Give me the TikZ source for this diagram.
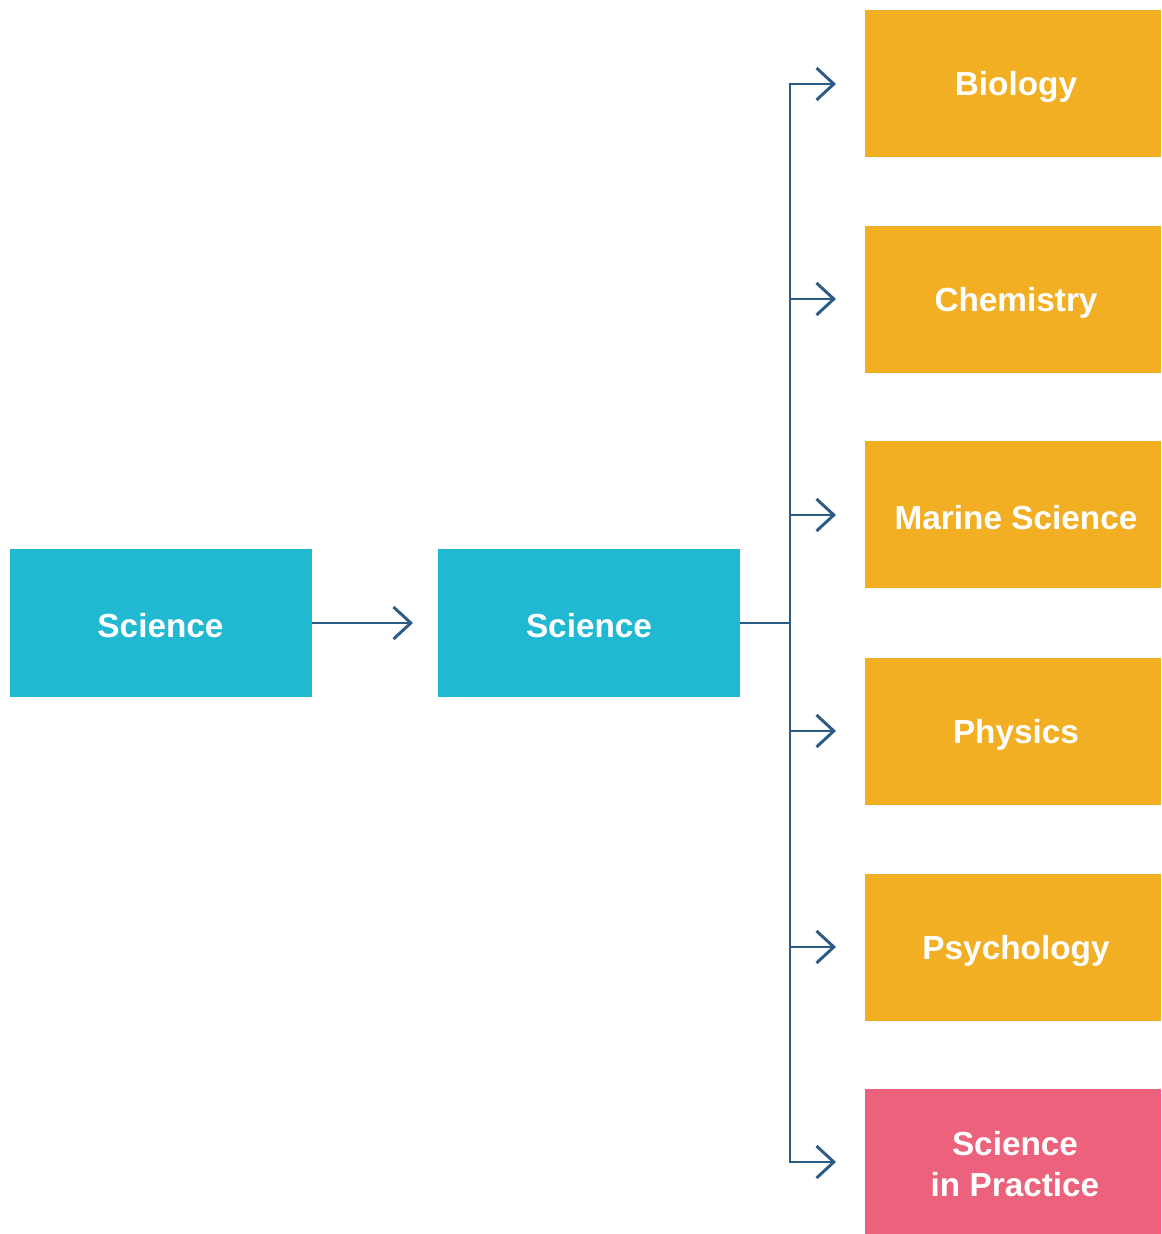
\documentclass[tikz,border=0pt]{standalone}
\usepackage{fontspec}
\setmainfont{Liberation Sans}
\usetikzlibrary{arrows.meta}
\definecolor{cyanbox}{HTML}{21B9D1}
\definecolor{orangebox}{HTML}{F2AF24}
\definecolor{pinkbox}{HTML}{EC627C}
\definecolor{linec}{HTML}{2A5A86}
\tikzset{
  box/.style={minimum width=296*0.75pt, minimum height=147*0.75pt, inner sep=0pt},
  cbox/.style={box, fill=cyanbox, minimum width=302*0.75pt, minimum height=148*0.75pt},
  obox/.style={box, fill=orangebox},
  pbox/.style={box, fill=pinkbox},
  lbl/.style={inner sep=0pt, text=white, font=\bfseries\fontsize{25pt}{30pt}\selectfont, align=center},
  conn/.style={draw=linec, line width=2.2pt},
  arr/.style={conn, -{Straight Barb[length=13pt, width=24pt, line width=2.2pt]}}
}
\begin{document}
\begin{tikzpicture}[x=0.75pt, y=-0.75pt]
\useasboundingbox (0,0) rectangle (1161,1234);
\node[cbox] (s1) at (161,623) {};
\node[cbox] (s2) at (588.5,623) {};
\node[obox] (bio) at (1013,84) {};
\node[obox] (chem) at (1013,299.5) {};
\node[obox] (mar) at (1013,514.5) {};
\node[obox] (phy) at (1013,731.5) {};
\node[obox] (psy) at (1013,947.5) {};
\node[pbox, minimum height=150*0.75pt] (sip) at (1013,1164) {};
\node[lbl] (ls1) at ([xshift=-0.5*0.75pt, yshift=-3*0.75pt]s1.center) {Science};
\node[lbl] (ls2) at ([xshift=0.5*0.75pt, yshift=-3*0.75pt]s2.center) {Science};
\node[lbl] (lbio) at ([xshift=3*0.75pt, yshift=-3*0.75pt]bio.center) {Biology};
\node[lbl] (lchem) at ([xshift=3*0.75pt, yshift=-3*0.75pt]chem.center) {Chemistry};
\node[lbl] (lmar) at ([xshift=3*0.75pt, yshift=-3*0.75pt]mar.center) {Marine Science};
\node[lbl] (lphy) at ([xshift=3*0.75pt, yshift=-3*0.75pt]phy.center) {Physics};
\node[lbl] (lpsy) at ([xshift=3*0.75pt, yshift=-3*0.75pt]psy.center) {Psychology};
\node[lbl] (lsip) at ([xshift=2*0.75pt, yshift=0pt]sip.center) {Science\\[1pt] in Practice};
\coordinate (a1) at (413,623);
\coordinate (j) at (790,623);
\coordinate (jt) at (790,84);
\coordinate (jb) at (790,1162);
\draw[arr] (s1.east) -- (a1);
\draw[conn] (s2.east) -- (j);
\draw[conn, line cap=rect] (jt) -- (jb);
\foreach \n/\y in {bio/84, chem/299, mar/515, phy/731, psy/947, sip/1162}{
  \coordinate (t\n) at (836,\y);
  \draw[arr] (790,\y) -- (t\n);
}
\end{tikzpicture}
\end{document}
